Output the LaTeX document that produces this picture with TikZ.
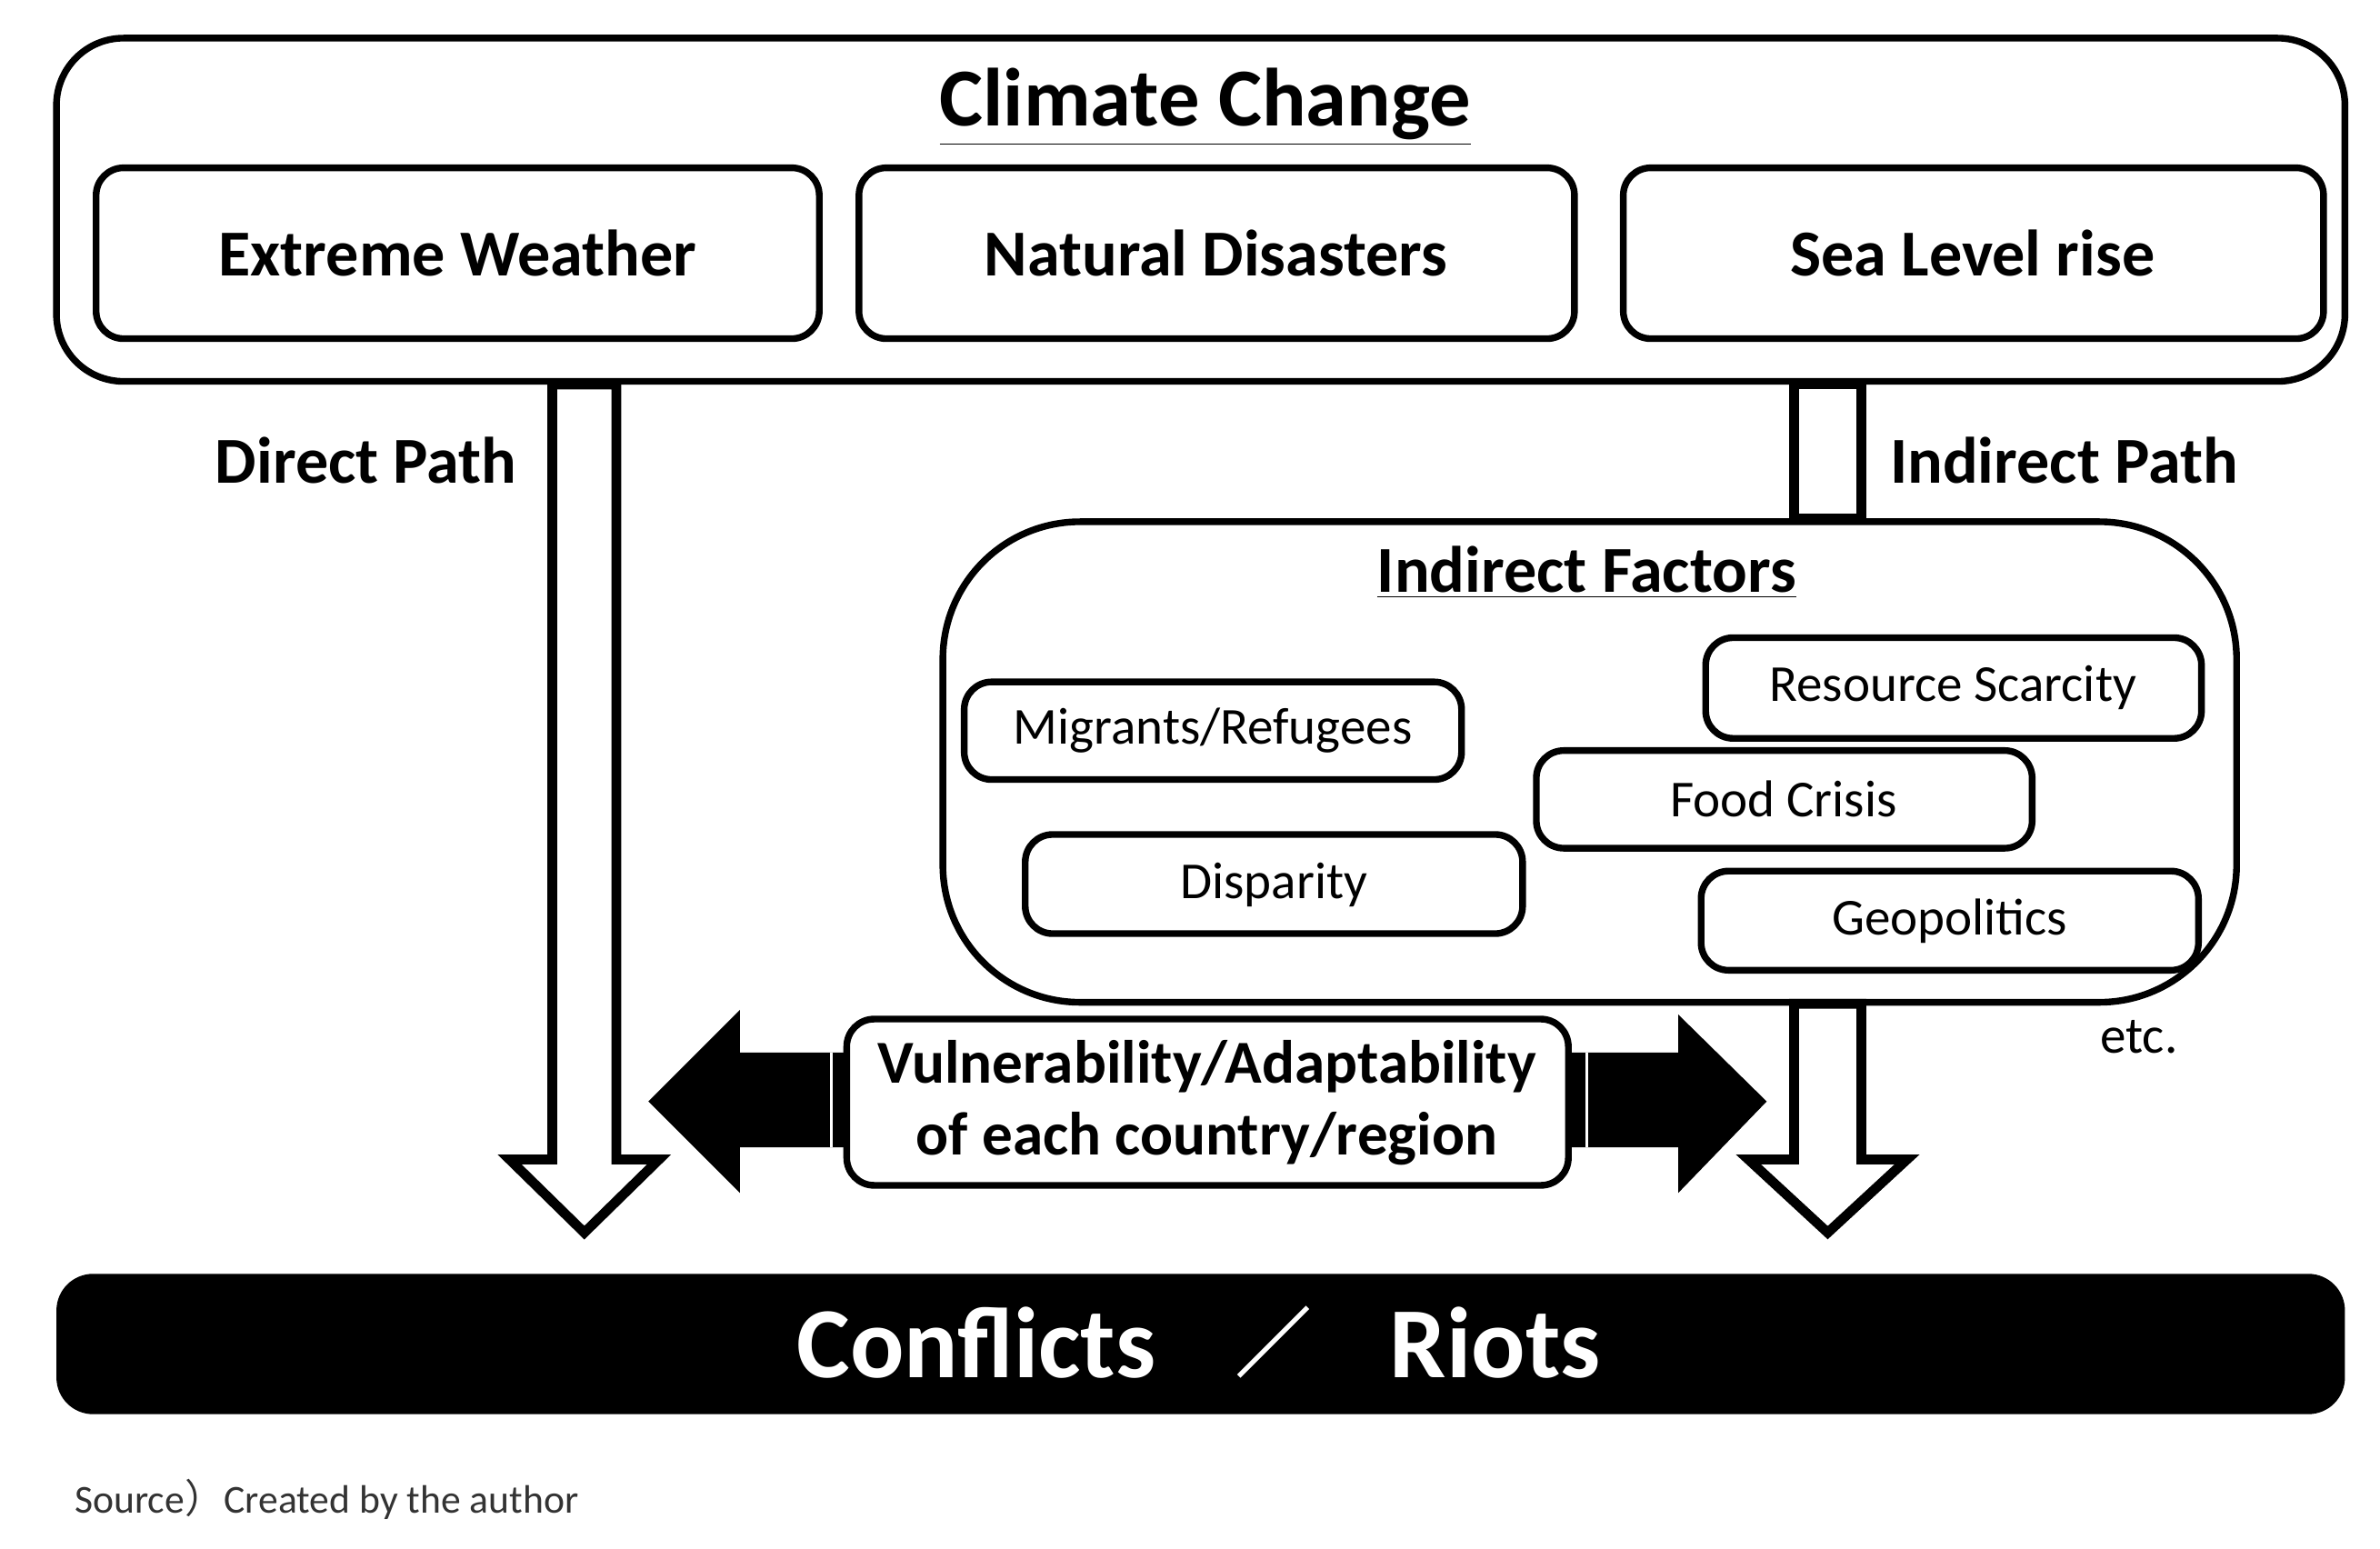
\documentclass[tikz,border=0pt]{standalone}
\usepackage{fontspec}
\setmainfont{Carlito}
\newfontfamily\cjk{Noto Sans CJK JP}
\begin{document}
\begin{tikzpicture}[x=0.5pt,y=-0.5pt,
  bx/.style={draw,line width=2.2pt,rounded corners=9pt},
  big/.style={font=\fontsize{21.5}{25}\selectfont\bfseries},
  sm/.style={font=\fontsize{17}{20}\selectfont},
  hol/.style={draw,line width=3.2pt,fill=white,line join=miter}]
\useasboundingbox (0,0) rectangle (1560,1015);
\fill[white] (0,0) rectangle (1560,1015);
\draw[line width=2.2pt,rounded corners=22pt] (37,25) rectangle (1537,250);
\node[font=\fontsize{27}{31}\selectfont\bfseries] (cc) at (790,70) {\underline{Climate Change}};
\draw[bx] (63,110) rectangle (537,222); \node[big] (ew) at (300,166) {Extreme Weather};
\draw[bx] (563,110) rectangle (1032,222); \node[big] (nd) at (797,166) {Natural Disasters};
\draw[bx] (1064,110) rectangle (1523,222); \node[big] (sl) at (1293,166) {Sea Level rise};
% direct arrow
\draw[hol] (362,252) -- (404,252) -- (404,760) -- (432,760) -- (383,808) -- (334,760) -- (362,760) -- cycle;
\node[big] (dp) at (240,302) {Direct Path};
% indirect upper
\draw[hol] (1176,252) -- (1220,252) -- (1220,340) -- (1176,340) -- cycle;
\node[big] (ip) at (1353,302) {Indirect Path};
% indirect lower
\draw[hol] (1176,658) -- (1220,658) -- (1220,760) -- (1250,760) -- (1198,808) -- (1146,760) -- (1176,760) -- cycle;
\draw[line width=2.2pt,rounded corners=45pt] (618,342) rectangle (1466,657);
\node[big] (if) at (1040,375) {\underline{Indirect Factors}};
\draw[bx] (1118,418) rectangle (1443,484); \node[sm] (rs) at (1280,451) {Resource Scarcity};
\draw[bx] (632,447) rectangle (958,511); \node[sm] (mr) at (795,479) {Migrants/Refugees};
\draw[bx] (1007,492) rectangle (1332,556); \node[sm] (fc) at (1169,524) {Food Crisis};
\draw[bx] (672,547) rectangle (998,612); \node[sm] (dis) at (835,580) {Disparity};
\draw[bx] (1115,571) rectangle (1441,636); \node[sm] (geo) at (1278,604) {Geopolitics};
\node[sm] (etc) at (1402,680) {etc.};
% black arrows
\fill (555,690) -- (485,690) -- (485,662) -- (425,722) -- (485,782) -- (485,752) -- (555,752) -- cycle;
\fill (1028,690) -- (1100,690) -- (1100,665) -- (1158,722) -- (1100,782) -- (1100,752) -- (1028,752) -- cycle;
\draw[white,line width=1pt] (545,690) -- (545,752) (1040,690) -- (1040,752);
\draw[bx,fill=white] (555,668) rectangle (1028,777);
\node[font=\fontsize{20}{23.5}\selectfont\bfseries,align=center] (vul) at (791,723) {Vulnerability/Adaptability\\of each country/region};
% bottom bar
\fill[rounded corners=12pt] (37,835) rectangle (1537,927);
\node[white,font=\fontsize{33}{38}\selectfont\bfseries] (cf) at (640,880) {Conflicts};
\draw[white,line width=1.5pt] (812,902) -- (857,857);
\node[white,font=\fontsize{33}{38}\selectfont\bfseries] (ri) at (980,880) {Riots};
\node[font=\fontsize{13}{15}\selectfont,text=black!80,anchor=west] (src) at (42,983) {Source{\cjk ）}Created by the author};
\end{tikzpicture}
\end{document}
